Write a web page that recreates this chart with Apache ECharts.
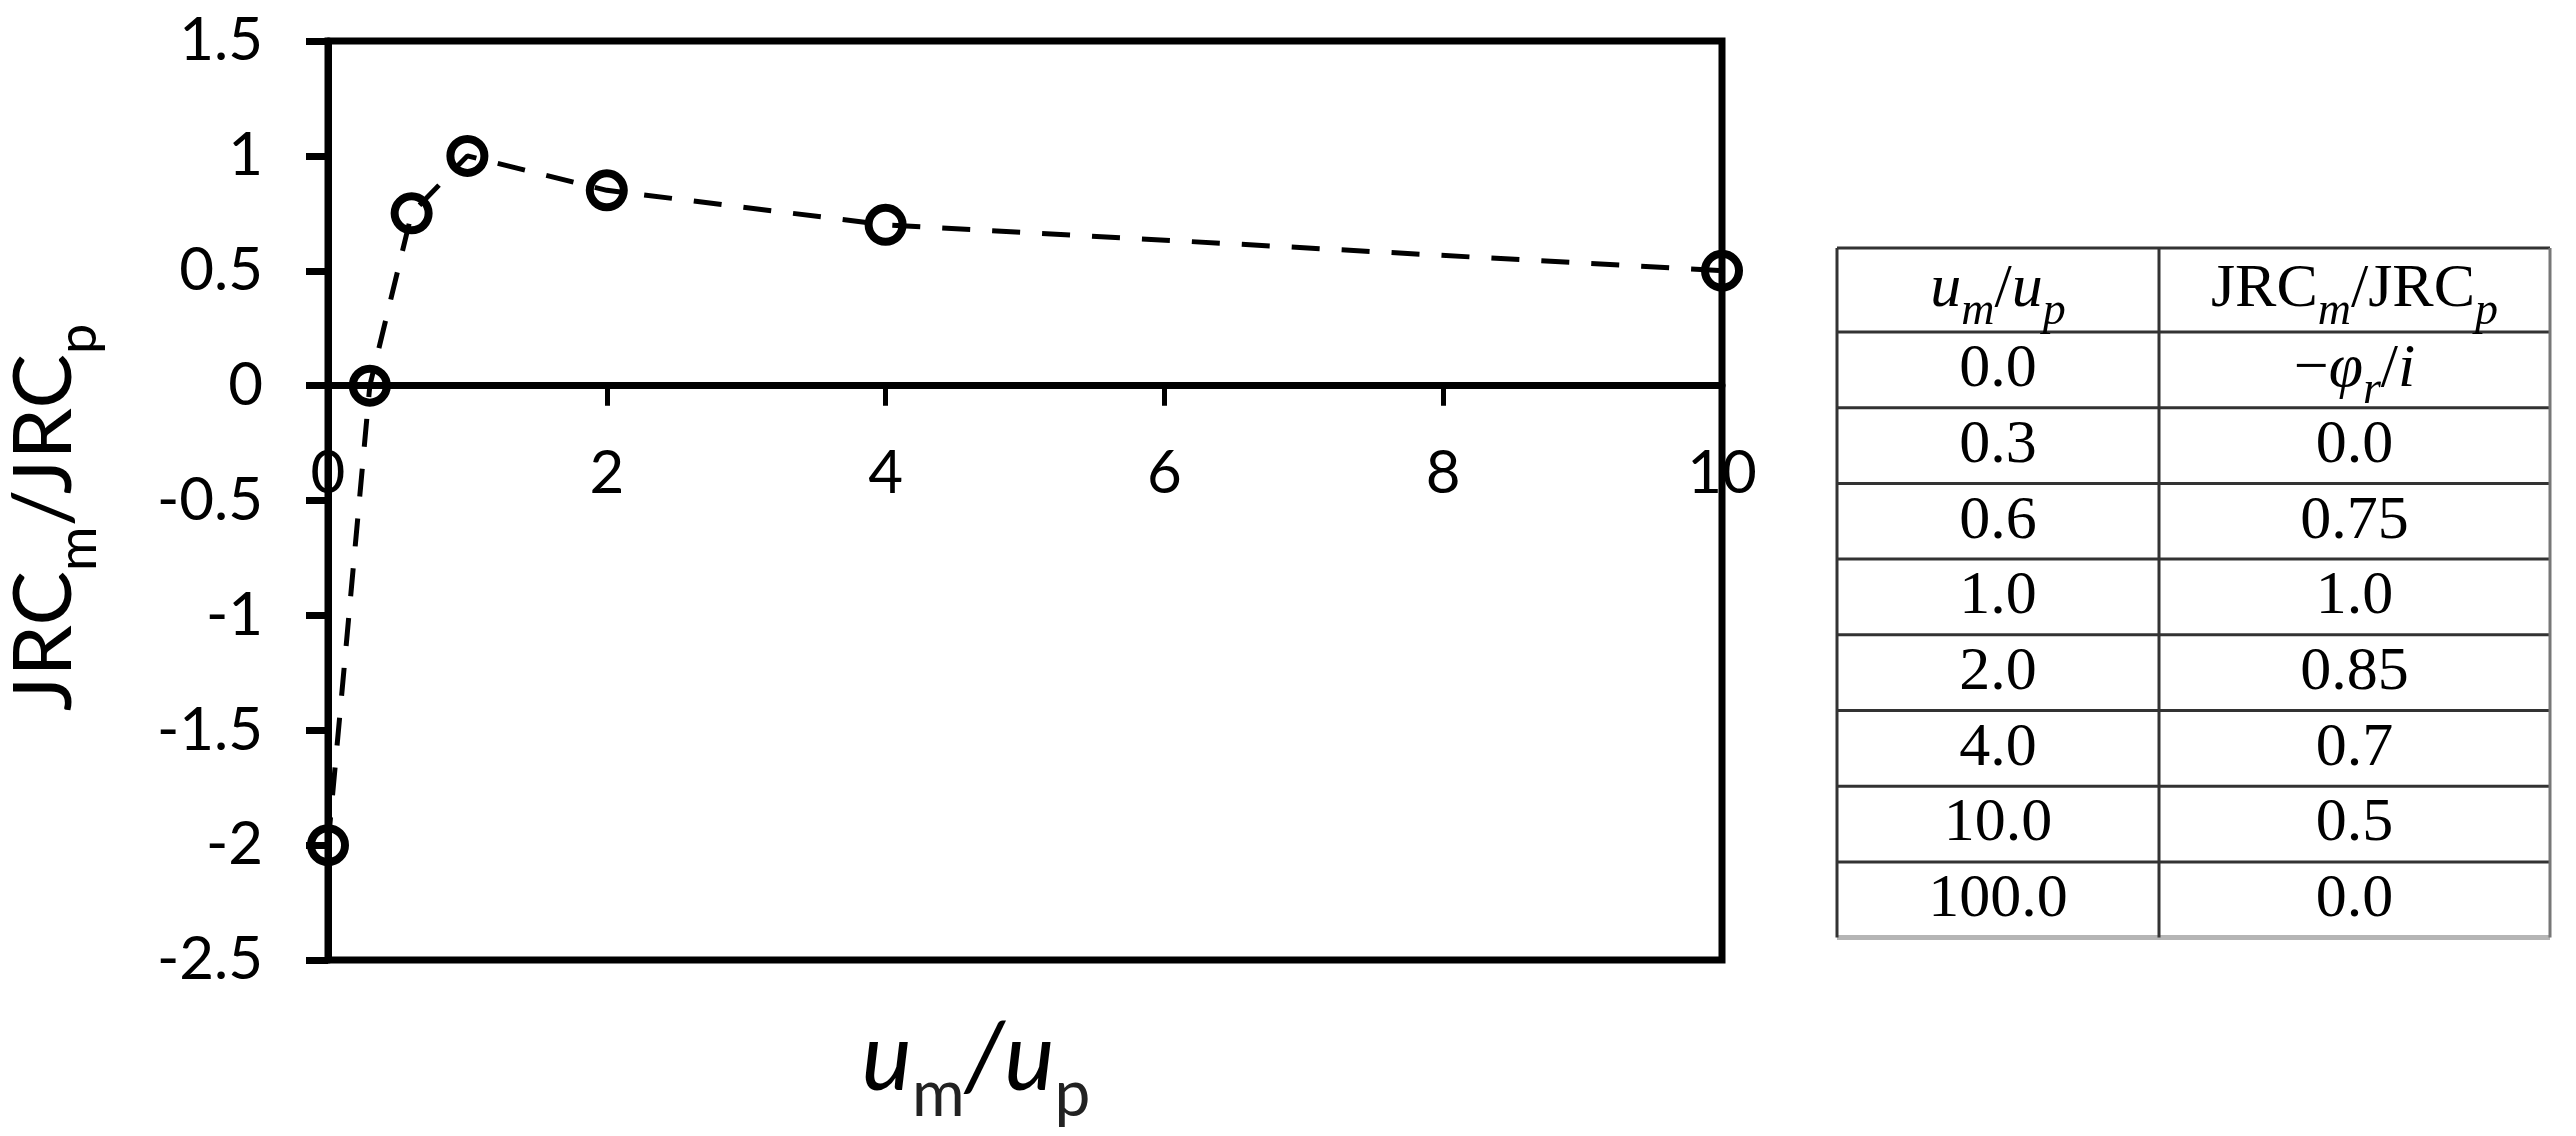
<!DOCTYPE html>
<html><head><meta charset="utf-8">
<script src="https://cdn.jsdelivr.net/npm/echarts@6/dist/echarts.min.js"></script>
<style>html,body{margin:0;padding:0;background:#fff}#chart{width:2576px;height:1136px}</style>
</head><body><div id="chart"></div>
<script>
// ---- data ----
const xValues = [0, 0.3, 0.6, 1.0, 2.0, 4.0, 10.0];
const yValues = [-2.0, 0.0, 0.75, 1.0, 0.85, 0.7, 0.5];
const xAxisTitle = '{u|u}{s|m}{a|/}{u|u}{s|p}';
const yAxisTitle = '{a|JRC}{s|m}{a|/JRC}{s|p}';
const tableHeader = ['{it|u}{sub|m}{op|/}{it|u}{sub|p}', '{rm|JRC}{sub|m}{op|/}{rm|JRC}{sub|p}'];
const tableCol1 = ['0.0', '0.3', '0.6', '1.0', '2.0', '4.0', '10.0', '100.0'];
const tableCol2 = ['{op|\u2212}{it|\u03c6}{sub|r}{op|/}{it|i}', '0.0', '0.75', '1.0', '0.85', '0.7', '0.5', '0.0'];

// ---- table layout ----
const T = {left: 1837, mid: 2159, right: 2550, top: 248, headH: 84, rowH: 75.7};
const serif = "'Liberation Serif', 'DejaVu Serif', serif";
const tableRich = {
  it:  {fontSize: 62, fontFamily: serif, fontStyle: 'italic', lineHeight: 89, fill: '#000', color: '#000'},
  rm:  {fontSize: 62, fontFamily: serif, lineHeight: 89, fill: '#000', color: '#000'},
  op:  {fontSize: 62, fontFamily: serif, lineHeight: 89, fill: '#000', color: '#000'},
  sub: {fontSize: 46, fontFamily: serif, fontStyle: 'italic', lineHeight: 20, verticalAlign: 'bottom', fill: '#000', color: '#000'}
};
const graphics = [];
const nRows = tableCol1.length;
const lineYs = [T.top, T.top + T.headH];
for (let i = 1; i <= nRows; i++) lineYs.push(T.top + T.headH + i * T.rowH);
lineYs.forEach((y, i) => {
  const last = i === lineYs.length - 1;
  graphics.push({type: 'line', shape: {x1: T.left, y1: y, x2: T.right, y2: y},
    style: {stroke: last ? '#b5b5b5' : '#333', lineWidth: last ? 5 : 3}});
});
[[T.left, '#333'], [T.mid, '#333'], [T.right, '#777']].forEach(([x, c]) => {
  graphics.push({type: 'line', shape: {x1: x, y1: T.top, x2: x, y2: lineYs[lineYs.length - 1]},
    style: {stroke: c, lineWidth: 3}});
});
function cell(text, cx, cy) {
  graphics.push({type: 'text', x: cx, y: cy, style: {
    text: text, fill: '#000', fontSize: 62, fontFamily: serif,
    align: 'center', verticalAlign: 'middle', textAlign: 'center', textVerticalAlign: 'middle',
    rich: tableRich}});
}
const c1 = (T.left + T.mid) / 2, c2 = (T.mid + T.right) / 2;
cell(tableHeader[0], c1, T.top + T.headH / 2);
cell(tableHeader[1], c2, T.top + T.headH / 2);
for (let i = 0; i < nRows; i++) {
  const cy = T.top + T.headH + (i + 0.5) * T.rowH;
  cell(tableCol1[i], c1, cy);
  cell(tableCol2[i], c2, cy);
}

const sans = "Lato, 'Noto Sans', sans-serif";
const chart = echarts.init(document.getElementById('chart'), null, {renderer: 'canvas'});
chart.setOption({
  animation: false,
  backgroundColor: '#fff',
  grid: {left: 328, right: 854, top: 41, bottom: 176, show: true, borderColor: '#000', borderWidth: 7,
         containLabel: false, outerBoundsMode: 'none'},
  xAxis: {
    type: 'value', min: 0, max: 10, interval: 2,
    axisLine: {show: true, onZero: true, lineStyle: {color: '#000', width: 7}},
    axisTick: {show: true, length: 20, lineStyle: {color: '#000', width: 5}},
    axisLabel: {fontSize: 60, fontFamily: sans, color: '#000', margin: -516, showMinLabel: true, showMaxLabel: true},
    splitLine: {show: false},
    name: xAxisTitle, nameLocation: 'middle', nameGap: 31, nameMoveOverlap: false,
    nameTextStyle: {padding: [0, 98, 0, 0], rich: {
      u: {fontSize: 95, fontFamily: sans, fontStyle: 'italic', color: '#000', lineHeight: 136},
      a: {fontSize: 95, fontFamily: sans, fontStyle: 'italic', color: '#000', lineHeight: 136},
      s: {fontSize: 64, fontFamily: sans, color: '#222', lineHeight: 30, verticalAlign: 'bottom'}
    }}
  },
  yAxis: {
    type: 'value', min: -2.5, max: 1.5, interval: 0.5,
    axisLine: {show: true, onZero: false, lineStyle: {color: '#000', width: 7}},
    axisTick: {show: true, length: 22, lineStyle: {color: '#000', width: 7}},
    axisLabel: {fontSize: 60, fontFamily: sans, color: '#000', margin: 65},
    splitLine: {show: false},
    name: yAxisTitle, nameLocation: 'middle', nameRotate: 90, nameGap: 222, nameMoveOverlap: false,
    nameTextStyle: {padding: [0, 34, 0, 0], rich: {
      a: {fontSize: 82, fontFamily: sans, color: '#000', lineHeight: 122},
      s: {fontSize: 54, fontFamily: sans, color: '#000', lineHeight: 24, verticalAlign: 'bottom'}
    }}
  },
  series: [{
    type: 'line',
    data: xValues.map((x, i) => [x, yValues[i]]),
    symbol: 'circle', symbolSize: 34, clip: false,
    itemStyle: {color: 'rgba(0,0,0,0)', borderColor: '#000', borderWidth: 8},
    lineStyle: {color: '#000', width: 5, type: [28, 22]},
    emphasis: {disabled: true}
  }],
  graphic: graphics
});
</script></body></html>
